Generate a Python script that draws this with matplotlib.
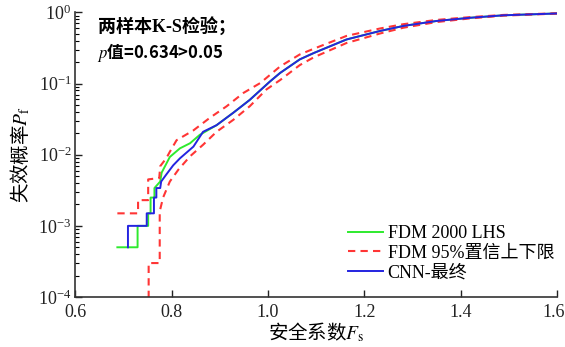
import matplotlib
matplotlib.use("Agg")
import matplotlib.pyplot as plt
from matplotlib.ticker import LogLocator, NullFormatter, FixedLocator
from matplotlib.transforms import ScaledTranslation

plt.rcParams['font.family'] = ['Liberation Serif', 'Noto Sans CJK SC', 'DejaVu Sans']
plt.rcParams['mathtext.fontset'] = 'stix'
plt.rcParams['font.size'] = 13

# FDM 2000 LHS (green)
fdm_fs = [0.687, 0.729, 0.729, 0.751, 0.751, 0.756, 0.756, 0.764, 0.764, 0.776, 0.779,
          0.796, 0.817, 0.838, 0.858, 0.893, 0.928, 0.962, 1.004, 1.025, 1.066, 1.095,
          1.163, 1.233, 1.281, 1.350, 1.419, 1.489, 1.600]
fdm_pf = [5e-4, 5e-4, 1e-3, 1e-3, 1.5e-3, 1.5e-3, 2.5e-3, 2.5e-3, 3.4e-3, 4.2e-3, 5.6e-3,
          9.3e-3, 1.23e-2, 1.45e-2, 1.9e-2, 2.6e-2, 3.9e-2, 5.9e-2, 0.107, 0.141, 0.219, 0.269,
          0.417, 0.550, 0.646, 0.759, 0.841, 0.912, 0.968]

# FDM 95% upper bound (red dashed, left)
up_fs = [0.687, 0.730, 0.730, 0.751, 0.751, 0.774, 0.776, 0.789, 0.796, 0.810, 0.845,
         0.879, 0.914, 0.949, 0.984, 1.025, 1.066, 1.095, 1.163, 1.233, 1.281, 1.350,
         1.419, 1.489, 1.600]
up_pf = [1.5e-3, 1.5e-3, 2.3e-3, 2.3e-3, 4.5e-3, 4.7e-3, 6.9e-3, 9.0e-3, 1.1e-2, 1.6e-2, 2.2e-2,
         3.3e-2, 4.8e-2, 7.4e-2, 0.102, 0.174, 0.257, 0.309, 0.468, 0.596, 0.684, 0.785,
         0.859, 0.923, 0.973]

# FDM 95% lower bound (red dashed, right)
lo_fs = [0.752, 0.752, 0.775, 0.775, 0.782, 0.796, 0.814, 0.838, 0.865, 0.893, 0.928,
         0.962, 0.997, 1.025, 1.066, 1.095, 1.163, 1.233, 1.281, 1.350, 1.419, 1.489, 1.600]
lo_pf = [1e-5, 3e-4, 3e-4, 1.6e-3, 2.5e-3, 4.2e-3, 6.2e-3, 9.5e-3, 1.38e-2, 2.1e-2, 3.1e-2,
         4.8e-2, 8.3e-2, 0.112, 0.182, 0.234, 0.372, 0.507, 0.610, 0.733, 0.824, 0.902, 0.964]

# CNN final (blue)
cnn_fs = [0.709, 0.709, 0.748, 0.748, 0.763, 0.763, 0.768, 0.768, 0.776, 0.778, 0.788,
          0.803, 0.817, 0.845, 0.865, 0.893, 0.928, 0.962, 1.004, 1.025, 1.066, 1.095,
          1.163, 1.233, 1.281, 1.350, 1.419, 1.489, 1.600]
cnn_pf = [5e-4, 1e-3, 1e-3, 1.5e-3, 1.5e-3, 2.5e-3, 2.5e-3, 3.4e-3, 3.4e-3, 4.2e-3, 5.2e-3,
          7.1e-3, 8.9e-3, 1.3e-2, 2.1e-2, 2.6e-2, 3.9e-2, 5.9e-2, 0.107, 0.141, 0.219, 0.269,
          0.417, 0.550, 0.646, 0.759, 0.841, 0.912, 0.968]

x_ticks = [0.6, 0.8, 1.0, 1.2, 1.4, 1.6]

fig = plt.figure(figsize=(5.65, 3.47), dpi=100)
ax = fig.add_axes([0.1336, 0.1441, 0.852, 0.820])

red_dash = (0, (3.5, 2.5))
ax.plot(fdm_fs, fdm_pf, color='#2eea2e', lw=1.4, label='FDM 2000 LHS')
ax.plot(up_fs, up_pf, color='#ff3535', lw=1.5, ls=red_dash, label='FDM 95%置信上下限')
ax.plot(lo_fs, lo_pf, color='#ff3535', lw=1.5, ls=red_dash)
ax.plot(cnn_fs, cnn_pf, color='#2424e0', lw=1.4, label='CNN-最终')

ax.set_yscale('log')
ax.set_xlim(0.6, 1.6)
ax.set_ylim(1e-4, 1)
ax.xaxis.set_major_locator(FixedLocator(x_ticks))
ax.set_xticklabels([f'{v:.1f}' for v in x_ticks])
ax.yaxis.set_major_locator(LogLocator(base=10, numticks=10))
ax.yaxis.set_minor_locator(LogLocator(base=10, subs=range(2, 10), numticks=20))
ax.yaxis.set_minor_formatter(NullFormatter())

for s in ('top', 'right'):
    ax.spines[s].set_visible(False)
for s in ('left', 'bottom'):
    ax.spines[s].set_color('#333333')
    ax.spines[s].set_linewidth(1.2)
ax.tick_params(which='major', direction='in', length=5, width=1, labelsize=13, colors='#222222')
ax.tick_params(which='minor', direction='in', length=3, width=0.8)
ax.tick_params(axis='x', pad=5)
ax.tick_params(axis='y', pad=3)

ax.set_xlabel('安全系数$F_\\mathrm{s}$', family='Noto Sans CJK SC', fontsize=14, labelpad=0)
ax.set_ylabel('失效概率$P_\\mathrm{f}$', family='Noto Sans CJK SC', fontsize=14, labelpad=4)

ax.text(0.047, 0.947, '两样本K-S检验；', transform=ax.transAxes,
        ha='left', va='center', fontsize=13, fontweight='bold')
ax.text(0.045, 0.859, '$p$值=0.634>0.05', transform=ax.transAxes, family='Noto Sans CJK SC',
        ha='left', va='center', fontsize=12, fontweight='bold')

ax.legend(loc='upper left', bbox_to_anchor=(0.566, 0.253), frameon=False, fontsize=13,
          handlelength=1.95, handletextpad=0.25, labelspacing=0.15, borderpad=0, borderaxespad=0)

fig.canvas.draw()
last = ax.get_xticklabels()[-1]
last.set_ha('right')
last.set_transform(last.get_transform() + ScaledTranslation(6 / 72, 0, fig.dpi_scale_trans))

fig.savefig('out.png', dpi=100)
